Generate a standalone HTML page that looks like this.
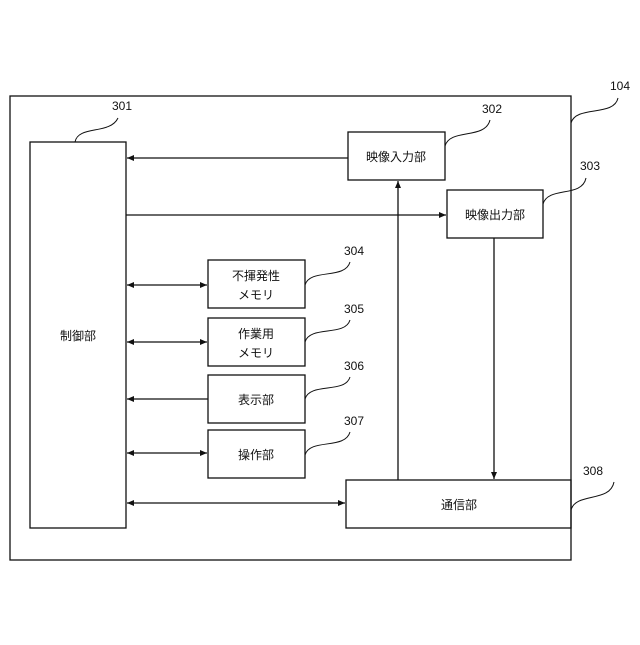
<!DOCTYPE html>
<html><head><meta charset="utf-8"><style>
html,body{margin:0;padding:0;background:#fff;}
svg text{font-family:"Liberation Sans","Noto Sans CJK JP",sans-serif;fill:#111;}
</style></head><body>
<svg width="640" height="640" viewBox="0 0 640 640" xmlns="http://www.w3.org/2000/svg">
<defs>
<marker id="a" markerWidth="8" markerHeight="8" refX="7" refY="4" orient="auto-start-reverse" markerUnits="userSpaceOnUse">
<path d="M0,1 L7,4 L0,7 z" fill="#111"/></marker>
</defs>
<g fill="none" stroke="#111" stroke-width="1.3">
<rect x="10" y="96" width="561" height="464"/>
<rect x="30" y="142" width="96" height="386"/>
<rect x="348" y="132" width="97" height="48"/>
<rect x="447" y="190" width="96" height="48"/>
<rect x="208" y="260" width="97" height="48"/>
<rect x="208" y="318" width="97" height="48"/>
<rect x="208" y="375" width="97" height="48"/>
<rect x="208" y="430" width="97" height="48"/>
<rect x="346" y="480" width="225" height="48"/>
<line x1="348" y1="158" x2="127" y2="158" marker-end="url(#a)"/>
<line x1="126" y1="215" x2="446" y2="215" marker-end="url(#a)"/>
<line x1="398" y1="480" x2="398" y2="181" marker-end="url(#a)"/>
<line x1="494" y1="238" x2="494" y2="479" marker-end="url(#a)"/>
<line x1="127" y1="285" x2="207" y2="285" marker-start="url(#a)" marker-end="url(#a)"/>
<line x1="127" y1="342" x2="207" y2="342" marker-start="url(#a)" marker-end="url(#a)"/>
<line x1="208" y1="399" x2="127" y2="399" marker-end="url(#a)"/>
<line x1="127" y1="453" x2="207" y2="453" marker-start="url(#a)" marker-end="url(#a)"/>
<line x1="127" y1="503" x2="345" y2="503" marker-start="url(#a)" marker-end="url(#a)"/>
<g stroke-width="1">
<path d="M75,142 C78,125 110,135 118,118"/>
<path d="M445,146 C450,128 485,140 490,120"/>
<path d="M543,204 C548,186 582,198 586,178"/>
<path d="M305,285 C310,268 345,280 350,262"/>
<path d="M305,342 C310,325 345,337 350,320"/>
<path d="M305,399 C310,382 345,394 350,377"/>
<path d="M305,455 C310,438 345,450 350,432"/>
<path d="M571,510 C576,492 610,503 614,482"/>
<path d="M571,123 C576,105 614,117 618,98"/>
</g>
</g>
<g font-size="12" text-anchor="middle">
<text x="78" y="340">制御部</text>
<text x="396" y="161">映像入力部</text>
<text x="495" y="219">映像出力部</text>
<text x="256" y="280">不揮発性</text>
<text x="256" y="299">メモリ</text>
<text x="256" y="338">作業用</text>
<text x="256" y="357">メモリ</text>
<text x="256" y="404">表示部</text>
<text x="256" y="459">操作部</text>
<text x="459" y="509">通信部</text>
<text x="620" y="90">104</text>
<text x="122" y="110">301</text>
<text x="492" y="113">302</text>
<text x="590" y="170">303</text>
<text x="354" y="255">304</text>
<text x="354" y="313">305</text>
<text x="354" y="370">306</text>
<text x="354" y="425">307</text>
<text x="593" y="475">308</text>
</g>
</svg>
</body></html>
